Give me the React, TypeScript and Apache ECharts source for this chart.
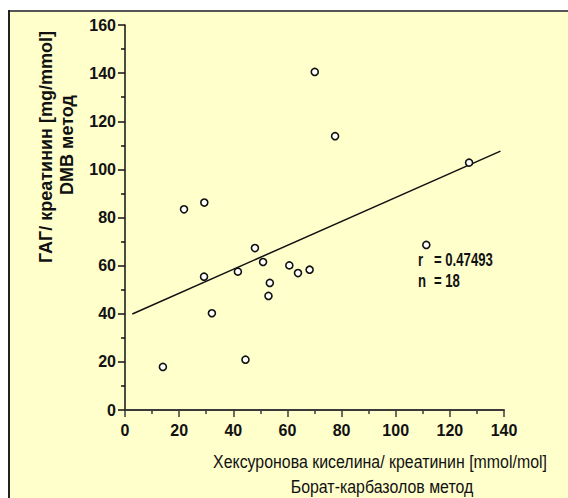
import React, { useEffect, useRef } from "react";
import * as echarts from "echarts";

// scatter points (x: hexuronic acid / creatinine, y: GAG / creatinine)
const pointsX = [21.8, 29.3, 70.1, 77.6, 14.0, 29.2, 32.1, 41.7, 44.5, 48.0, 51.0, 53.0, 53.5, 60.7, 63.9, 68.2, 127.1, 111.3];
const pointsY = [83.4, 86.2, 140.5, 113.8, 17.9, 55.4, 40.2, 57.5, 20.9, 67.3, 61.5, 47.4, 52.8, 60.1, 56.9, 58.3, 102.8, 68.6];

// regression line end points
const lineX = [2.7, 138.7];
const lineY = [39.9, 107.6];

const xTitle = ["Хексуронова киселина/ креатинин [mmol/mol]", "Борат-карбазолов метод"];
const yTitle = ["ГАГ/ креатинин [mg/mmol]", "DMB метод"];
const statLabels = ["r", "n"];
const statValues = ["= 0.47493", "= 18"];

const FONT = "'Liberation Sans', Arial, sans-serif";

export default function App() {
  const ref = useRef<HTMLDivElement>(null);
  useEffect(() => {
    if (!ref.current) return;
    const chart = echarts.init(ref.current, undefined, { renderer: "svg" });
    const scatterData = pointsX.map((x, i) => [x, pointsY[i]]);
    const lineData = lineX.map((x, i) => [x, lineY[i]]);
    const statText = (text: string, x: number, y: number) => ({
      type: "text",
      x,
      y,
      scaleX: 0.73,
      style: { text, fill: "#111", font: `bold 18px ${FONT}`, textAlign: "left", textVerticalAlign: "middle" },
    });
    chart.setOption({
      animation: false,
      backgroundColor: "#FFFFCC",
      grid: { left: 125, top: 25, right: 64, bottom: 88, containLabel: false },
      xAxis: {
        type: "value",
        min: 0,
        max: 140,
        interval: 20,
        splitLine: { show: false },
        axisLine: { show: true, onZero: false, lineStyle: { color: "#3a3a3a", width: 2 } },
        axisTick: { show: true, length: 7, lineStyle: { color: "#3a3a3a", width: 1.5 } },
        minorTick: { show: true, splitNumber: 2, length: 4, lineStyle: { color: "#3a3a3a", width: 1.5 } },
        axisLabel: { margin: 12, color: "#111", fontFamily: FONT, fontWeight: "bold", fontSize: 16 },
      },
      yAxis: {
        type: "value",
        min: 0,
        max: 160,
        interval: 20,
        splitLine: { show: false },
        axisLine: { show: true, onZero: false, lineStyle: { color: "#111", width: 1.5 } },
        axisTick: { show: true, length: 7, lineStyle: { color: "#111", width: 1.5 } },
        minorTick: { show: true, splitNumber: 2, length: 4, lineStyle: { color: "#111", width: 1.5 } },
        axisLabel: { margin: 9, color: "#111", fontFamily: FONT, fontWeight: "bold", fontSize: 16 },
      },
      series: [
        {
          type: "line",
          data: lineData,
          showSymbol: false,
          symbol: "none",
          lineStyle: { color: "#111", width: 1.5 },
          z: 2,
        },
        {
          type: "scatter",
          data: scatterData,
          symbol: "circle",
          symbolSize: 7,
          itemStyle: { color: "#ffffff", borderColor: "#111", borderWidth: 1.6, opacity: 1 },
          z: 3,
        },
      ],
      graphic: [
        { type: "rect", shape: { x: 0, y: 0, width: 568, height: 10 }, style: { fill: "#ffffff" }, silent: true },
        { type: "rect", shape: { x: 0, y: 0, width: 8, height: 498 }, style: { fill: "#ffffff" }, silent: true },
        { type: "line", shape: { x1: 8, y1: 11, x2: 568, y2: 11 }, style: { stroke: "#555", lineWidth: 2 }, silent: true },
        { type: "line", shape: { x1: 9, y1: 10, x2: 9, y2: 498 }, style: { stroke: "#222", lineWidth: 2 }, silent: true },
        {
          type: "text",
          x: 380,
          y: 462,
          scaleX: 0.86,
          style: { text: xTitle[0], fill: "#111", font: `18.5px ${FONT}`, textAlign: "center", textVerticalAlign: "middle" },
        },
        {
          type: "text",
          x: 382,
          y: 487,
          scaleX: 0.86,
          style: { text: xTitle[1], fill: "#111", font: `18.5px ${FONT}`, textAlign: "center", textVerticalAlign: "middle" },
        },
        {
          type: "text",
          x: 46,
          y: 147,
          rotation: Math.PI / 2,
          style: { text: yTitle[0], fill: "#111", font: `bold 18px ${FONT}`, textAlign: "center", textVerticalAlign: "middle" },
        },
        {
          type: "text",
          x: 67,
          y: 145,
          rotation: Math.PI / 2,
          style: { text: yTitle[1], fill: "#111", font: `bold 18px ${FONT}`, textAlign: "center", textVerticalAlign: "middle" },
        },
        statText(statLabels[0], 418, 260),
        statText(statValues[0], 434, 260),
        statText(statLabels[1], 418, 281),
        statText(statValues[1], 434, 281),
      ],
    });
    return () => chart.dispose();
  }, []);
  return <div ref={ref} style={{ position: "absolute", left: 0, top: 0, width: 568, height: 498 }} />;
}
